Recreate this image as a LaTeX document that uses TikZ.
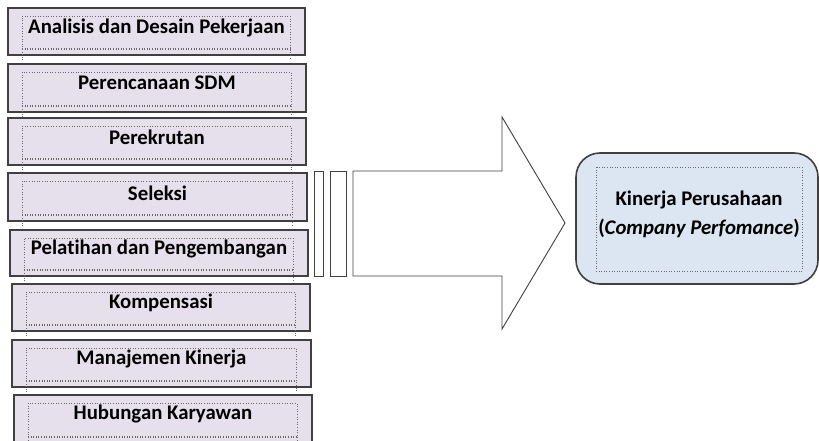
\documentclass[tikz,border=0pt]{standalone}
\usepackage{fontspec}
\setmainfont{Carlito}[Ligatures=CommonOff]
\usetikzlibrary{fit}
\definecolor{lavender}{HTML}{E5E0EC}
\definecolor{paleblue}{HTML}{DCE6F2}
\definecolor{boxline}{HTML}{404040}
\definecolor{frameline}{HTML}{6A6A6A}
\begin{document}
\begin{tikzpicture}[x=1pt,y=-1pt,
  hrbox/.style={draw=boxline, line width=1.6pt, fill=lavender, inner sep=0pt},
  innerframe/.style={draw=frameline, dotted, line width=0.6pt},
  hrlabel/.style={font=\fontsize{20.8}{24}\selectfont\bfseries, inner sep=0pt, text=black},
  barbox/.style={draw=boxline, line width=1pt, fill=white, inner sep=0pt},
  bigarrow/.style={draw=boxline, line width=0.9pt, fill=white, line join=miter},
  perfbox/.style={draw=boxline, line width=1.6pt, fill=paleblue, rounded corners=24pt, inner sep=0pt}]
\useasboundingbox (0,0) rectangle (819,441);
\clip (0,0) rectangle (819,441);
\fill[white] (0,0) rectangle (819,441);

% HR activity boxes
\foreach \n/\l/\t/\r/\b/\ty/\txt in {
  1/8/8/305/55/28/{Analisis dan Desain Pekerjaan},
  2/8/64/306/112/83/{Perencanaan SDM},
  3/8/118/306/165/137/{Perekrutan},
  4/8/173/307/221/193/{Seleksi},
  5/10/230/308/276/249/{Pelatihan dan Pengembangan},
  6/12/284/310/331/303/{Kompensasi},
  7/12/340/311/387/359/{Manajemen Kinerja},
  8/14/395/312/443/414/{Hubungan Karyawan}} {
  \node[hrbox, fit={(\l,\t) (\r,\b)}] (box\n) {};
  \draw[innerframe] (\l+14,\b+5) -- (\l+14,\t+8) -- (\r-15,\t+8) -- (\r-15,\b+5);
  \draw[innerframe] (\l+14,\b-7) -- (\r-15,\b-7);
  \draw[innerframe] (\l+14,\b-6) -- (\r-15,\b-6);
  \node[hrlabel] (lbl\n) at ({(\l+\r)/2},\ty) {\txt};
}

% thin bars in front of the arrow
\node[barbox, fit={(314,171) (323,276)}] (bar1) {};
\node[barbox, fit={(330,171) (346,276)}] (bar2) {};

% block arrow
\draw[bigarrow] (353,171) -- (502,171) -- (502,117) -- (565,223)
  -- (502,329) -- (502,276) -- (353,276) -- cycle;

% company performance box
\node[perfbox, fit={(576,153) (818,284)}] (perf) {};
\draw[innerframe] (596,167) rectangle (802,271);
\node[hrlabel] (perf1) at (699,200) {Kinerja Perusahaan};
\node[hrlabel] (perf2) at (699,228) {(\textit{Company Perfomance})};
\end{tikzpicture}
\end{document}
